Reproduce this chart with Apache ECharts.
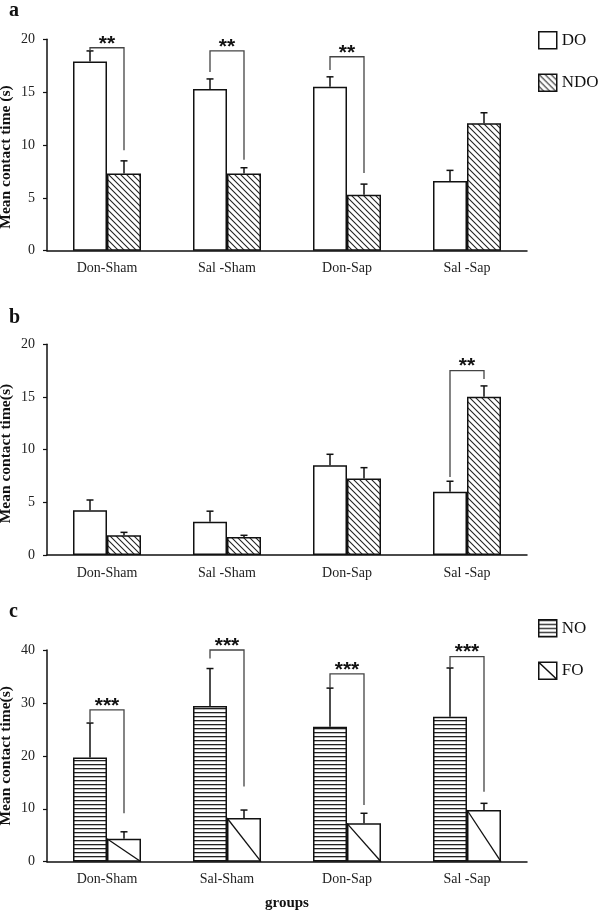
<!DOCTYPE html>
<html>
<head>
<meta charset="utf-8">
<script src="https://cdn.jsdelivr.net/npm/echarts@6/dist/echarts.min.js"></script>
<style>html,body{margin:0;padding:0;background:#fff}#c{width:600px;height:922px}</style>
</head>
<body>
<div id="c"></div>
<script>
// ---------- data ----------
const labelsA = ['Don-Sham', 'Sal -Sham', 'Don-Sap', 'Sal -Sap'];
const labelsB = ['Don-Sham', 'Sal -Sham', 'Don-Sap', 'Sal -Sap'];
const labelsC = ['Don-Sham', 'Sal-Sham', 'Don-Sap', 'Sal -Sap'];

const aDO = [17.9, 15.3, 15.5, 6.6];
const aDOsem = [1.0, 0.95, 0.95, 1.0];
const aNDO = [7.3, 7.3, 5.3, 12.05];
const aNDOsem = [1.2, 0.55, 1.0, 1.0];

const bDO = [4.24, 3.16, 8.52, 6.0];
const bDOsem = [0.98, 1.0, 1.04, 1.0];
const bNDO = [1.87, 1.71, 7.25, 15.03];
const bNDOsem = [0.28, 0.16, 1.04, 1.02];

const cNO = [19.7, 29.4, 25.5, 27.4];
const cNOsem = [6.5, 7.1, 7.3, 9.2];
const cFO = [4.35, 8.26, 7.25, 9.77];
const cFOsem = [1.3, 1.5, 1.9, 1.26];

// significance brackets: [category, left leg end, top, right leg end]
const aBrackets = [[0, 18.9, 19.2, 9.5], [1, 16.9, 18.9, 8.6], [2, 17.1, 18.35, 7.35]];
const aStars = ['**', '**', '**'];
const bBrackets = [[3, 7.4, 17.5, 16.7]];
const bStars = ['**'];
const cBrackets = [[0, 26.2, 28.7, 9.15], [1, 38.4, 40, 14.2], [2, 32.8, 35.5, 10.7], [3, 36.6, 38.75, 13.2]];
const cStars = ['***', '***', '***', '***'];

const ticksAB = {min: 0, max: 20, interval: 5};
const ticksC = {min: 0, max: 40, interval: 10};

// ---------- styling ----------
const BAR_W = 34;
const INK = '#111';
const SERIF = '"Liberation Serif", "Times New Roman", serif';

function makePattern(kind) {
  const cv = document.createElement('canvas');
  const ctx = cv.getContext('2d');
  if (kind === 'diag') {
    cv.width = 6; cv.height = 6;
    ctx.fillStyle = '#fff'; ctx.fillRect(0, 0, 6, 6);
    ctx.strokeStyle = '#222'; ctx.lineWidth = 1.1;
    for (const x0 of [-6, 0, 6]) {
      ctx.beginPath(); ctx.moveTo(x0 - 1, -1); ctx.lineTo(x0 + 7, 7); ctx.stroke();
    }
  } else {
    cv.width = 4; cv.height = 4;
    ctx.fillStyle = '#fff'; ctx.fillRect(0, 0, 4, 4);
    ctx.fillStyle = '#222'; ctx.fillRect(0, 0, 4, 1.3);
  }
  return {image: cv, repeat: 'repeat'};
}
const diagFill = makePattern('diag');
const horizFill = makePattern('horiz');

const gridBase = {containLabel: false, outerBoundsMode: 'none', left: 47, width: 480};
const grids = [
  Object.assign({}, gridBase, {top: 39.3, height: 211.4}),
  Object.assign({}, gridBase, {top: 344.3, height: 210.7}),
  Object.assign({}, gridBase, {top: 650, height: 211.7})
];

function xAxisFor(i, labels, extra) {
  return Object.assign({
    type: 'category', gridIndex: i, data: labels,
    axisTick: {show: false},
    axisLine: {lineStyle: {color: INK, width: 1.5}},
    axisLabel: {margin: 11, fontSize: 14, fontFamily: SERIF, color: '#222'}
  }, extra || {});
}
function yAxisFor(i, ticks, name, pad) {
  return Object.assign({
    type: 'value', gridIndex: i,
    name: name, nameLocation: 'middle', nameGap: 33, nameMoveOverlap: false,
    nameTextStyle: {fontSize: 15.5, fontWeight: 'bold', fontFamily: SERIF, color: INK, padding: pad || 0},
    axisLine: {show: true, lineStyle: {color: INK, width: 1.5}},
    axisTick: {show: true, length: 4, lineStyle: {color: INK, width: 1.2}},
    axisLabel: {margin: 12, fontSize: 14, fontFamily: SERIF, color: '#222'},
    splitLine: {show: false}
  }, ticks);
}

function barSeries(name, data, i, fill) {
  return {
    type: 'bar', name: name, data: data, xAxisIndex: i, yAxisIndex: i,
    barWidth: BAR_W, barGap: '0%',
    itemStyle: {color: fill, borderColor: INK, borderWidth: 1.5},
    z: 2
  };
}

function errSeries(vals, sems, side, i) {
  return {
    type: 'custom', xAxisIndex: i, yAxisIndex: i, z: 3, silent: true,
    data: vals.map((v, k) => [k, v, sems[k], side]),
    encode: {x: 0, y: 1},
    renderItem: function (params, api) {
      const c = api.value(0), v = api.value(1), s = api.value(2), sd = api.value(3);
      const base = api.coord([c, v]);
      const top = api.coord([c, v + s]);
      const x = base[0] + sd * BAR_W / 2;
      return {type: 'group', children: [
        {type: 'line', shape: {x1: x, y1: base[1], x2: x, y2: top[1]}, style: {stroke: INK, lineWidth: 1.5}},
        {type: 'line', shape: {x1: x - 3.5, y1: top[1], x2: x + 3.5, y2: top[1]}, style: {stroke: INK, lineWidth: 1.5}}
      ]};
    }
  };
}

function bracketSeries(rows, stars, i) {
  return {
    type: 'custom', xAxisIndex: i, yAxisIndex: i, z: 4, silent: true,
    data: rows, encode: {x: 0, y: 2},
    renderItem: function (params, api) {
      const c = api.value(0);
      const l = api.coord([c, api.value(1)]);
      const t = api.coord([c, api.value(2)]);
      const r = api.coord([c, api.value(3)]);
      const xL = l[0] - BAR_W / 2, xR = l[0] + BAR_W / 2;
      return {type: 'group', children: [
        {type: 'polyline', shape: {points: [[xL, l[1]], [xL, t[1]], [xR, t[1]], [xR, r[1]]]},
         style: {stroke: '#444', lineWidth: 1.3, fill: null}},
        {type: 'text', x: (xL + xR) / 2, y: t[1] - 4,
         style: {text: stars[params.dataIndex], align: 'center', verticalAlign: 'middle',
                 fontSize: 21, fontWeight: 'bold', fontFamily: '"Liberation Sans", Arial, sans-serif', fill: INK}}
      ]};
    }
  };
}

function diagSeries(vals, i) {
  return {
    type: 'custom', xAxisIndex: i, yAxisIndex: i, z: 3, silent: true,
    data: vals.map((v, k) => [k, v]), encode: {x: 0, y: 1},
    renderItem: function (params, api) {
      const c = api.value(0);
      const t = api.coord([c, api.value(1)]);
      const b = api.coord([c, 0]);
      return {type: 'line', shape: {x1: t[0], y1: t[1], x2: t[0] + BAR_W, y2: b[1]},
              style: {stroke: INK, lineWidth: 1.3}};
    }
  };
}

const legendBase = {
  orient: 'vertical', left: 533, padding: 5, itemWidth: 18, itemHeight: 17, itemGap: 24,
  textStyle: {fontSize: 17, fontFamily: SERIF, color: INK},
  itemStyle: {borderColor: INK, borderWidth: 1.5},
  selectedMode: false
};

const option = {
  animation: false,
  backgroundColor: '#fff',
  grid: grids,
  legend: [
    Object.assign({}, legendBase, {top: 26, data: [{name: 'DO', icon: 'rect'}, {name: 'NDO', icon: 'rect'}]}),
    Object.assign({}, legendBase, {top: 614, data: [{name: 'NO', icon: 'rect'}, {name: 'FO', icon: 'path://M0 0H18V17H0ZM0 0L18 17'}]})
  ],
  xAxis: [
    xAxisFor(0, labelsA),
    xAxisFor(1, labelsB),
    xAxisFor(2, labelsC, {name: 'groups', nameLocation: 'middle', nameGap: 34, nameMoveOverlap: false,
      nameTextStyle: {fontSize: 15, fontWeight: 'bold', fontFamily: SERIF, color: INK}})
  ],
  yAxis: [
    yAxisFor(0, ticksAB, 'Mean contact time (s)', [0, 24, 0, 0]),
    yAxisFor(1, ticksAB, 'Mean contact time(s)', [0, 8, 0, 0]),
    yAxisFor(2, ticksC, 'Mean contact time(s)')
  ],
  graphic: [
    {type: 'text', left: 9, top: 1, style: {text: 'a', font: 'bold 20px ' + SERIF, fill: INK}},
    {type: 'text', left: 9, top: 308, style: {text: 'b', font: 'bold 20px ' + SERIF, fill: INK}},
    {type: 'text', left: 9, top: 602, style: {text: 'c', font: 'bold 20px ' + SERIF, fill: INK}}
  ],
  series: [
    barSeries('DO', aDO, 0, '#fff'),
    barSeries('NDO', aNDO, 0, diagFill),
    errSeries(aDO, aDOsem, -1, 0),
    errSeries(aNDO, aNDOsem, 1, 0),
    bracketSeries(aBrackets, aStars, 0),

    barSeries('DO', bDO, 1, '#fff'),
    barSeries('NDO', bNDO, 1, diagFill),
    errSeries(bDO, bDOsem, -1, 1),
    errSeries(bNDO, bNDOsem, 1, 1),
    bracketSeries(bBrackets, bStars, 1),

    barSeries('NO', cNO, 2, horizFill),
    barSeries('FO', cFO, 2, '#fff'),
    diagSeries(cFO, 2),
    errSeries(cNO, cNOsem, -1, 2),
    errSeries(cFO, cFOsem, 1, 2),
    bracketSeries(cBrackets, cStars, 2)
  ]
};

const chart = echarts.init(document.getElementById('c'), null, {renderer: 'canvas'});
chart.setOption(option);
</script>
</body>
</html>
